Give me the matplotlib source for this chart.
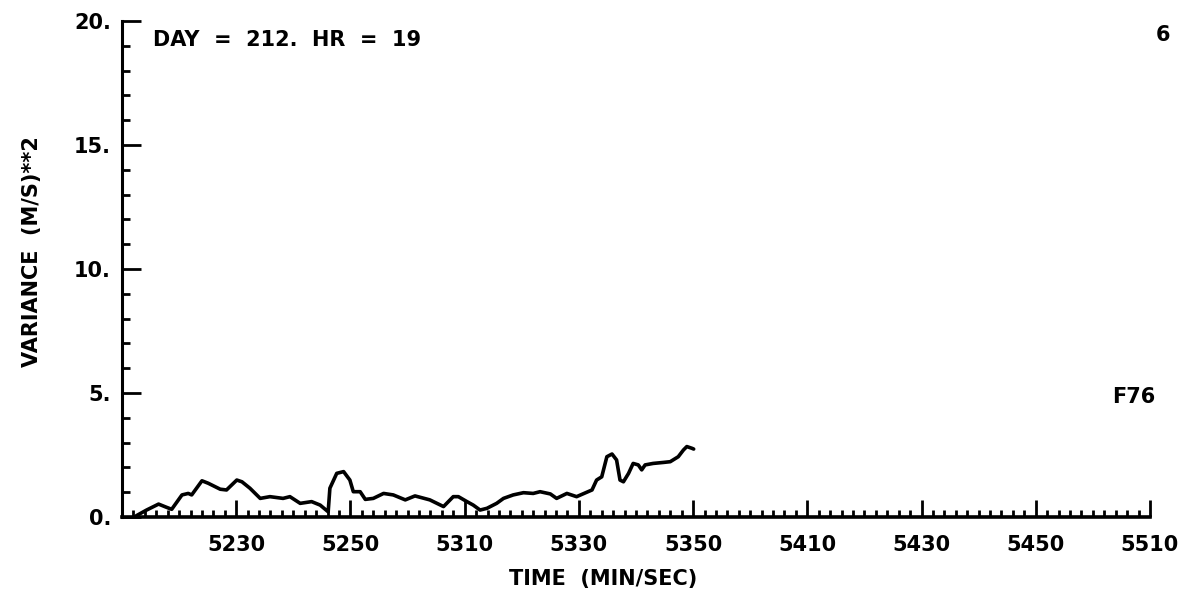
import matplotlib
matplotlib.use('Agg')
import matplotlib.pyplot as plt
from matplotlib.ticker import MultipleLocator, FixedLocator

# time in seconds after 52:10 (min/sec), variance in (m/s)**2
t_sec = [2.5, 4.3, 6.4, 7.8, 8.7, 10.5, 11.6, 12.2, 14.0, 15.1, 17.2, 18.3,
         20.1, 21.0, 22.4, 24.2, 25.9, 28.2, 29.4, 31.2, 33.2, 34.7, 36.1,
         36.4, 37.6, 38.8, 39.9, 40.5, 41.7, 42.6, 44.0, 45.8, 47.5, 49.6,
         51.3, 53.9, 56.3, 58.0, 58.9, 60.4, 61.5, 62.7, 63.9, 65.6, 66.8,
         68.5, 70.3, 72.0, 73.2, 75.0, 76.1, 77.9, 79.6, 82.3, 83.1, 84.0,
         84.9, 85.8, 86.6, 87.2, 87.8, 88.7, 89.5, 90.4, 91.0, 91.6, 93.0,
         94.8, 96.0, 97.4, 98.3, 98.9, 99.8, 100.1]
variance = [0.05, 0.28, 0.52, 0.39, 0.31, 0.89, 0.95, 0.89, 1.46, 1.36, 1.12, 1.09,
            1.49, 1.42, 1.16, 0.75, 0.82, 0.75, 0.82, 0.55, 0.62, 0.48, 0.21,
            1.16, 1.76, 1.83, 1.49, 1.02, 1.02, 0.71, 0.75, 0.95, 0.89, 0.69,
            0.85, 0.69, 0.42, 0.82, 0.82, 0.62, 0.48, 0.28, 0.35, 0.55, 0.75,
            0.89, 0.98, 0.95, 1.02, 0.93, 0.75, 0.95, 0.82, 1.09, 1.49, 1.62,
            2.43, 2.54, 2.30, 1.49, 1.42, 1.76, 2.16, 2.10, 1.90, 2.10, 2.16,
            2.20, 2.23, 2.43, 2.70, 2.84, 2.77, 2.74]

x_ticks = [20, 40, 60, 80, 100, 120, 140, 160, 180]
x_labels = ['5230', '5250', '5310', '5330', '5350', '5410', '5430', '5450', '5510']
y_ticks = [0, 5, 10, 15, 20]
y_labels = ['0.', '5.', '10.', '15.', '20.']

plt.rcParams['font.family'] = ['DejaVu Sans']
plt.rcParams['font.weight'] = 'bold'

fig = plt.figure(figsize=(11.88, 5.92), dpi=100, facecolor='white')
ax = fig.add_axes([0.1027, 0.1267, 0.8653, 0.8378])

ax.plot(t_sec, variance, color='black', lw=2.6, solid_joinstyle='round',
        solid_capstyle='round')

ax.set_xlim(0, 180)
ax.set_ylim(0, 20)

ax.spines['top'].set_visible(False)
ax.spines['right'].set_visible(False)
ax.spines['left'].set_linewidth(2.2)
ax.spines['bottom'].set_linewidth(2.6)

ax.xaxis.set_major_locator(FixedLocator(x_ticks))
ax.set_xticklabels(x_labels)
ax.xaxis.set_minor_locator(MultipleLocator(2))
ax.yaxis.set_major_locator(FixedLocator(y_ticks))
ax.set_yticklabels(y_labels)
ax.yaxis.set_minor_locator(MultipleLocator(1))

ax.tick_params(axis='x', which='major', direction='in', length=12, width=2,
               pad=13, labelsize=15)
ax.tick_params(axis='x', which='minor', direction='in', length=5, width=2)
ax.tick_params(axis='y', which='major', direction='in', length=14, width=2,
               pad=8, labelsize=15)
ax.tick_params(axis='y', which='minor', direction='in', length=6, width=2)

ax.set_xlabel('TIME  (MIN/SEC)', fontsize=15, fontweight='bold')
ax.xaxis.set_label_coords(0.468, -0.105)
ax.set_ylabel('VARIANCE  (M/S)**2', fontsize=15, fontweight='bold')
ax.yaxis.set_label_coords(-0.078, 0.535)

fig.text(0.129, 0.932, 'DAY  =  212.  HR  =  19', fontsize=15, fontweight='bold',
         va='center', ha='left')
fig.text(0.979, 0.941, '6', fontsize=15, fontweight='bold', va='center', ha='center')
fig.text(0.954, 0.329, 'F76', fontsize=15, fontweight='bold', va='center', ha='center')

fig.savefig('out.png', dpi=100, facecolor='white')
